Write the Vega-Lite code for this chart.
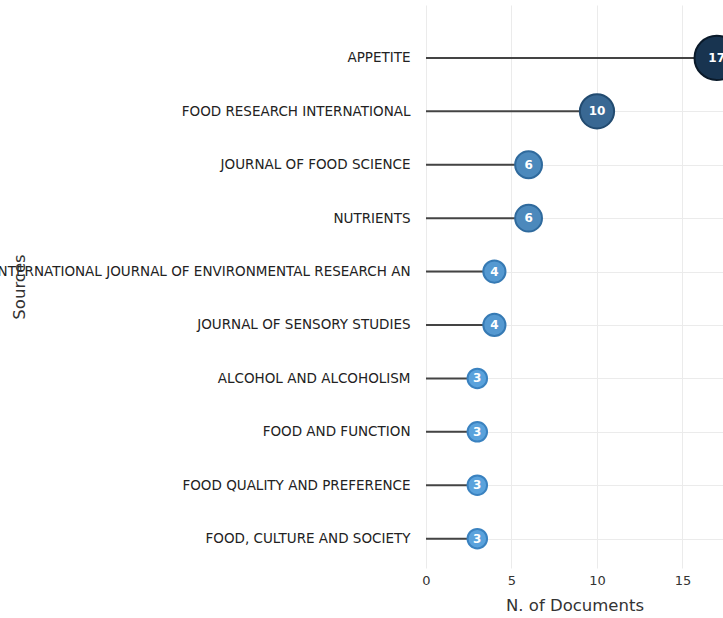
{
  "$schema": "https://vega.github.io/schema/vega-lite/v6.json",
  "autosize": {"type": "none"},
  "padding": {"left": 426, "top": 5, "right": 0, "bottom": 50},
  "width": 297,
  "height": 563,
  "background": "white",
  "config": {
    "view": {"stroke": null},
    "font": "DejaVu Sans",
    "axis": {"domain": false, "ticks": false, "gridColor": "#ebebeb", "gridWidth": 1, "labelColor": "#333333", "titleColor": "#333333", "labelFont": "DejaVu Sans", "titleFont": "DejaVu Sans", "titleFontWeight": "normal"}
  },
  "data": {
    "values": [
      {"source": "APPETITE", "n": 17},
      {"source": "FOOD RESEARCH INTERNATIONAL", "n": 10},
      {"source": "JOURNAL OF FOOD SCIENCE", "n": 6},
      {"source": "NUTRIENTS", "n": 6},
      {"source": "INTERNATIONAL JOURNAL OF ENVIRONMENTAL RESEARCH AN", "n": 4},
      {"source": "JOURNAL OF SENSORY STUDIES", "n": 4},
      {"source": "ALCOHOL AND ALCOHOLISM", "n": 3},
      {"source": "FOOD AND FUNCTION", "n": 3},
      {"source": "FOOD QUALITY AND PREFERENCE", "n": 3},
      {"source": "FOOD, CULTURE AND SOCIETY", "n": 3}
    ]
  },
  "encoding": {
    "y": {
      "field": "source", "type": "nominal", "sort": null,
      "scale": {"type": "point", "padding": 0.77, "align": 0.643},
      "axis": {"title": "Sources", "grid": true, "labelFontSize": 13.5, "labelColor": "#222222", "labelPadding": 16, "titleFontSize": 16.5, "titleX": -402, "titleAngle": -90, "titleBaseline": "alphabetic", "labelLimit": 1000}
    },
    "x": {"field": "n", "type": "quantitative", "scale": {"domain": [0, 17.37], "nice": false}, "axis": {"title": "N. of Documents", "values": [0, 5, 10, 15], "labelFlush": false, "labelFontSize": 13, "labelPadding": 6, "titleFontSize": 16.5, "titlePadding": 10}}
  },
  "layer": [
    {
      "mark": {"type": "rule", "color": "#444444", "strokeWidth": 2, "clip": true},
      "encoding": {
        "x2": {"datum": 0}
      }
    },
    {
      "mark": {"type": "circle", "opacity": 1, "strokeWidth": 2, "clip": true},
      "encoding": {
        "size": {"field": "n", "type": "quantitative", "scale": {"domain": [3, 17], "range": [380, 1963]}, "legend": null},
        "color": {"field": "n", "type": "quantitative", "scale": {"domain": [3, 17], "range": ["#5aa2dc", "#183450"]}, "legend": null},
        "stroke": {"field": "n", "type": "quantitative", "scale": {"domain": [3, 17], "range": ["#3a82c0", "#0a1a2a"]}, "legend": null}
      }
    },
    {
      "mark": {"type": "text", "color": "white", "fontWeight": "bold", "fontSize": 12, "clip": true},
      "encoding": {
        "text": {"field": "n", "type": "quantitative"}
      }
    }
  ]
}
